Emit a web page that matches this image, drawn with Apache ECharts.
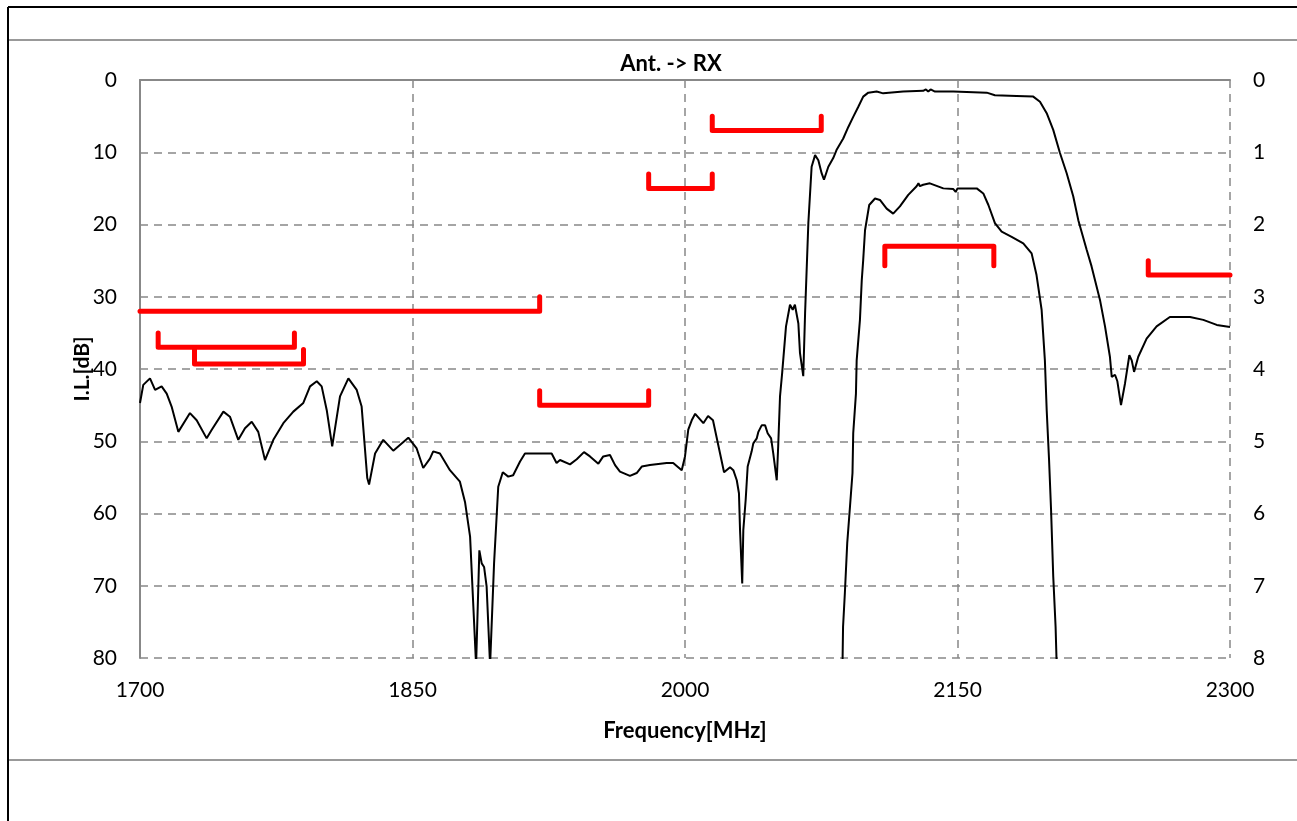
<!DOCTYPE html>
<html><head><meta charset="utf-8">
<script src="https://cdn.jsdelivr.net/npm/echarts@6/dist/echarts.min.js"></script>
<style>html,body{margin:0;padding:0;background:#fff}#c{width:1297px;height:821px}</style>
</head><body><div id="c"></div>
<script>
// Ant. -> RX rejection curve (left axis, dB): [MHz, dB]
const rejFreq = [1700,1701.8,1705.5,1708.3,1711.9,1714.7,1717.4,1721.1,1727.5,1731.2,1736.7,1739.5,1745.9,1749.5,1754.1,1757.8,1761.5,1765.1,1768.8,1773.4,1778.9,1784.4,1789.9,1793.6,1797.3,1800,1802.8,1805.8,1810.1,1814.7,1819.3,1822,1825.1,1826.1,1829.4,1833.9,1839.4,1847.7,1852.3,1855.9,1859.6,1861.4,1865.1,1870.6,1876.1,1878.9,1881.7,1883.5,1885,1886.8,1888.1,1889.4,1890.8,1892.7,1894.9,1897.2,1899.7,1902.7,1905.4,1909.2,1911.9,1926.6,1929.3,1931.2,1936.7,1940.4,1944.4,1947.7,1952.3,1955,1958.7,1961.5,1964.2,1969.7,1973.4,1976.2,1980.7,1989.9,1993.5,1998.2,2000,2001.8,2003.7,2005.6,2010.1,2012.7,2015.4,2019.3,2021.5,2024.8,2026.6,2028.5,2029.7,2030.3,2031.5,2032.1,2033.4,2034.5,2036.7,2037.6,2039.5,2040.4,2042.2,2044.1,2045.5,2047.4,2048.6,2050.5,2051.3,2052.3,2053.5,2055.6,2057.8,2059.3,2060.5,2062.4,2063.3,2065.1,2066.1,2067.9,2069.7,2071.6,2073.4,2075.2,2076.5,2078.9,2081.6,2083.4,2087.1,2089.9,2092.6,2095.4,2098.1,2100.9,2105.5,2109.1,2120.1,2131.1,2132.6,2133.9,2135.2,2137.6,2147.7,2166.1,2170.6,2182.5,2191.7,2195.4,2199.1,2202.7,2206.4,2210.1,2213.7,2216.5,2221.1,2223.8,2228.4,2231.2,2233.9,2234.9,2236.7,2238,2240,2242.2,2244.6,2245.9,2247.2,2249.5,2254.1,2259.6,2266.9,2278,2285.3,2292.7,2300];
const rejDb = [44.7,42.2,41.3,42.9,42.4,43.4,45.2,48.7,46.1,47.1,49.6,48.4,45.9,46.6,49.8,48.2,47.3,48.7,52.6,49.8,47.5,45.9,44.7,42.4,41.7,42.4,45.7,50.7,43.8,41.3,42.9,45.2,55.1,56,51.7,49.8,51.3,49.5,51,53.7,52.4,51.4,51.7,54,55.6,58.4,63.2,72.9,81,65.1,66.9,67.4,70.1,81,66.9,56.3,54.3,54.9,54.7,52.8,51.7,51.7,53,52.6,53.2,52.5,51.5,52.1,53.1,52.1,51.9,53.3,54.2,54.8,54.4,53.5,53.3,53,53,54,52.1,48.4,47.1,46.2,47.5,46.5,47.1,51.7,54.3,53.6,54,55.4,57.2,62.3,69.7,62.3,58.1,53.5,51.4,50.3,49.6,48.7,47.8,47.8,48.9,49.6,51.7,55.4,50.7,43.8,40.5,34.1,31.1,31.8,31.1,33.7,37.8,41,32.3,19.8,12,10.4,11.1,12.9,13.8,12,10.8,9.7,8.1,6.5,5.1,3.7,2.3,1.75,1.6,1.85,1.6,1.5,1.3,1.6,1.3,1.6,1.6,1.75,2.1,2.2,2.3,3,4.6,6.9,10.1,12.9,16.1,19.4,23.5,25.8,30.4,34.1,38.3,41.1,40.8,41.7,45,42,38.1,38.8,40.4,38.3,35.8,34.1,32.8,32.8,33.2,33.9,34.2];

// Passband insertion loss (right axis, dB)
const ilFreq = [2086.7,2087,2088,2089.3,2090.8,2092.2,2092.6,2094.1,2094.5,2096.3,2097.3,2098.1,2099.1,2101.4,2104.6,2107.3,2111,2114.6,2118.3,2122.9,2127.5,2128.5,2129.3,2131.1,2134.8,2142.2,2147.7,2149,2150,2153.1,2160.6,2164.2,2167,2170.6,2174.3,2179.8,2186.2,2190.8,2193.5,2196.3,2198.1,2199.1,2200.4,2201.5,2202.7,2204,2204.6];
const ilDb = [8.1,7.57,7.1,6.41,5.91,5.44,4.89,4.34,3.88,3.32,2.77,2.49,2.08,1.73,1.64,1.66,1.78,1.85,1.75,1.59,1.47,1.43,1.47,1.45,1.43,1.5,1.51,1.55,1.5,1.5,1.5,1.57,1.73,1.98,2.1,2.17,2.26,2.4,2.7,3.18,3.88,4.57,5.26,5.95,6.87,7.57,8.1];

// Specification limits
const specFrom  = [1700, 1710, 1730, 1920, 1980, 2015, 2255, 2110];
const specTo    = [1920, 1785, 1790, 1980, 2015, 2075, 2300, 2170];
const specLevel = [32,   37,   39.3, 45,   15,   7,    27,   2.3];
const specAxis  = [0,    0,    0,    0,    0,    0,    0,    1];   // 0: rejection (left), 1: passband (right)

const xTicks = [1700, 1850, 2000, 2150, 2300];

const X_MIN = 1700, X_MAX = 2300;
const font = 'Lato, "Liberation Sans", sans-serif';

function specSeries(i) {
  const up = specAxis[i] === 0;
  const tick = up ? -2 : 0.27;
  const lv = specLevel[i];
  const pts = [];
  if (specFrom[i] > X_MIN) pts.push([specFrom[i], lv + tick]);
  pts.push([specFrom[i], lv]);
  pts.push([specTo[i], lv]);
  if (specTo[i] < X_MAX) pts.push([specTo[i], lv + tick]);
  return {
    type: 'line', yAxisIndex: specAxis[i], data: pts, symbol: 'none',
    lineStyle: { color: '#ff0000', width: 5, cap: 'round', join: 'round' },
    animation: false, z: 3
  };
}

const chart = echarts.init(document.getElementById('c'), null, { renderer: 'canvas' });
const series = [
  { type: 'line', yAxisIndex: 0, data: rejFreq.map((f, i) => [f, rejDb[i]]), symbol: 'none',
    lineStyle: { color: '#000', width: 2 }, animation: false, z: 4 },
  { type: 'line', yAxisIndex: 1, data: ilFreq.map((f, i) => [f, ilDb[i]]), symbol: 'none',
    lineStyle: { color: '#000', width: 2 }, animation: false, z: 4 }
];
for (let i = 0; i < specFrom.length; i++) series.push(specSeries(i));

chart.setOption({
  backgroundColor: '#fff',
  animation: false,
  title: { text: 'Ant. -> RX', left: 666, top: 48, textAlign: 'center',
    textStyle: { fontFamily: font, fontSize: 22, fontWeight: 'bold', color: '#000' } },
  grid: { left: 140, right: 67, top: 80, bottom: 163 },
  graphic: [
    { type: 'line', shape: { x1: 8, y1: 7, x2: 1297, y2: 7 }, style: { stroke: '#000', lineWidth: 2 } },
    { type: 'line', shape: { x1: 8, y1: 7, x2: 8, y2: 821 }, style: { stroke: '#000', lineWidth: 2 } },
    { type: 'line', shape: { x1: 9, y1: 40, x2: 1297, y2: 40 }, style: { stroke: '#999', lineWidth: 2 } },
    { type: 'line', shape: { x1: 9, y1: 760, x2: 1297, y2: 760 }, style: { stroke: '#999', lineWidth: 2 } }
  ],
  xAxis: {
    type: 'value', min: X_MIN, max: X_MAX, interval: 150,
    name: 'Frequency[MHz]', nameLocation: 'middle', nameGap: 62,
    nameTextStyle: { fontFamily: font, fontSize: 22, fontWeight: 'bold', color: '#000' },
    axisLine: { show: true, lineStyle: { color: '#888', width: 2 } },
    axisTick: { show: false },
    axisLabel: { fontFamily: font, fontSize: 21, color: '#000', margin: 22,
      formatter: v => xTicks.includes(v) ? String(v) : '' },
    splitLine: { show: true, lineStyle: { color: '#888', type: [8, 6], width: 1.5 } }
  },
  yAxis: [
    { type: 'value', inverse: true, min: 0, max: 80, interval: 10,
      name: 'I.L.[dB]', nameLocation: 'middle', nameGap: 47, nameRotate: 90, nameMoveOverlap: false,
      nameTextStyle: { fontFamily: font, fontSize: 21, fontWeight: 'bold', color: '#000' },
      axisLine: { show: true, lineStyle: { color: '#888', width: 2 } },
      axisTick: { show: false },
      axisLabel: { fontFamily: font, fontSize: 21, color: '#000', margin: 23 },
      splitLine: { show: true, lineStyle: { color: '#888', type: [8, 6], width: 1.5 } } },
    { type: 'value', inverse: true, min: 0, max: 8, interval: 1, position: 'right',
      axisLine: { show: false }, axisTick: { show: false },
      axisLabel: { fontFamily: font, fontSize: 21, color: '#000', margin: 23 },
      splitLine: { show: false } }
  ],
  series: series
});
</script></body></html>
